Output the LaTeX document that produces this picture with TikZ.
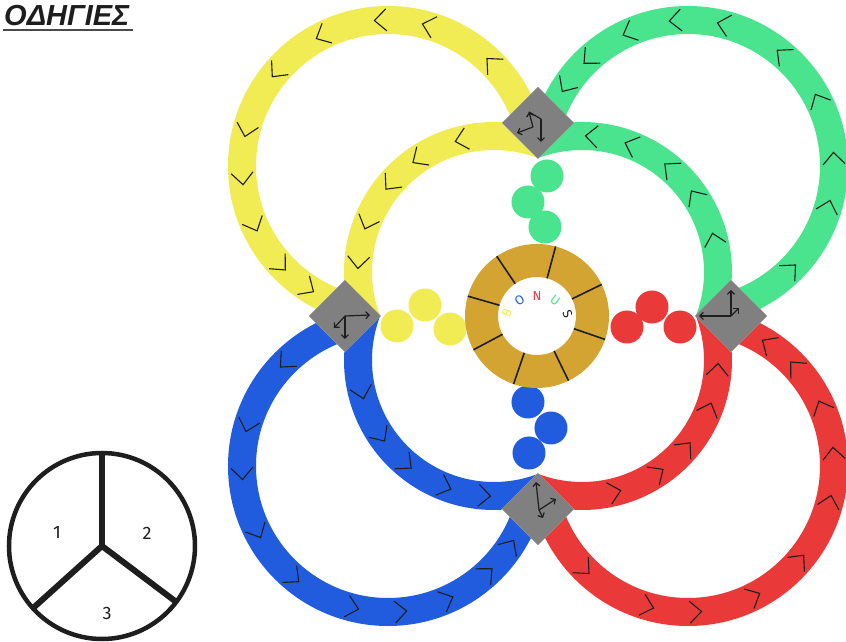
\documentclass[tikz,border=0pt]{standalone}
\usepackage{fontspec}
\setmainfont{Fira Sans}
\newfontfamily\titlefont{Liberation Sans}
\usetikzlibrary{arrows.meta}
\definecolor{yel}{RGB}{241,235,84}
\definecolor{grn}{RGB}{74,228,142}
\definecolor{blu}{RGB}{33,92,222}
\definecolor{redc}{RGB}{234,57,57}
\definecolor{goldc}{RGB}{211,164,50}
\definecolor{dgray}{RGB}{128,128,128}
\definecolor{ink}{RGB}{30,30,30}
\tikzset{
  band/.style={line width=28pt},
  chev/.style={draw=ink, line width=1.1pt},
  symarrow/.style={draw=ink, line width=1.2pt, -{Straight Barb[length=3.5pt,width=7pt]}},
  symline/.style={draw=ink, line width=1.2pt},
  spoke/.style={draw=ink, line width=1.6pt},
  wheel/.style={draw=ink, line width=4.5pt},
  wheelspoke/.style={draw=ink, line width=6pt},
  num/.style={font=\fontsize{18}{18}\selectfont, text=ink},
  letter/.style={font=\fontsize{13}{13}\selectfont, inner sep=0pt},
  diam/.style={fill=dgray},
}
\newcommand{\drawquad}[2]{%
  \begin{scope}[rotate=#2]
    \begin{scope}
      \clip (-700,-471) -- (471,700) -- (-700,700) -- cycle;
      \draw[#1, band] (-150,150) circle (146);
    \end{scope}
    \begin{scope}
      \clip (34.5,122.5) -- (-300,457) -- (-457,300) -- (-122.5,-34.5) -- cycle;
      \draw[#1, band] (-44,44) circle (136);
    \end{scope}
    \foreach \a in {45,74,93,117,140,166,185,204,223,237}{%
      \begin{scope}[shift={(-150,150)}, rotate=\a]
        \draw[chev] (157,-6) -- (146,6) -- (135,-6);
      \end{scope}}
    \foreach \a in {104,124,140,159,176}{%
      \begin{scope}[shift={(-44,44)}, rotate=\a]
        \draw[chev] (147,-6) -- (136,6) -- (125,-6);
      \end{scope}}
  \end{scope}}
\begin{document}
\begin{tikzpicture}[x=1pt,y=1pt]
\useasboundingbox (-538,-326) rectangle (308,316);
\fill[white] (-538,-326) rectangle (308,316);

% loops
\drawquad{yel}{0}
\drawquad{grn}{-90}
\drawquad{redc}{180}
\drawquad{blu}{90}

% diamonds
\coordinate (N) at (0,193);
\coordinate (W) at (-193,0);
\coordinate (E) at (193,0);
\coordinate (S) at (0,-193);
\foreach \p in {N,W,E,S}
  \fill[diam, shift={(\p)}] (0,36) -- (36,0) -- (0,-36) -- (-36,0) -- cycle;

% arrow symbols
\begin{scope}[shift={(N)}]
  \draw[symarrow] (-5,-4) -- (-9,11);
  \draw[symarrow] (-5,-4) -- (-21,-10);
  \draw[symarrow] (3,4) -- (3,-19);
  \draw[symline] (-9,11) -- (3,4);
\end{scope}
\begin{scope}[shift={(W)}]
  \draw[symarrow] (0,0) -- (25,1);
  \draw[symarrow] (0,0) -- (0,-23);
  \draw[symarrow] (0,0) -- (-11,-12);
\end{scope}
\begin{scope}[shift={(E)}]
  \draw[symarrow] (0,0) -- (0,26);
  \draw[symarrow] (0,0) -- (-32,0);
  \draw[symarrow] (0,0) -- (8,8);
\end{scope}
\begin{scope}[shift={(S)}]
  \draw[symarrow] (1,-1) -- (-2,27);
  \draw[symarrow] (1,-1) -- (18,10);
  \draw[symarrow] (1,-1) -- (5,-9);
\end{scope}

% dots
\foreach \q in {(-141,-10),(-113,11),(-88,-13)} \fill[yel] \q circle (16.5);
\foreach \q in {(9,140),(-10,114),(7,89)} \fill[grn] \q circle (16.5);
\foreach \q in {(89,-11),(114,9),(142,-11)} \fill[redc] \q circle (16.5);
\foreach \q in {(-10,-86),(13,-112),(-9,-137)} \fill[blu] \q circle (16.5);

% central ring
\coordinate (R) at (-1,0);
\fill[goldc, even odd rule] (R) circle (72) (R) circle (39);
\begin{scope}[shift={(R)}]
  \foreach \a in {124,75,26,-19,-64,-109,-152,164}
    \draw[spoke] (\a:39) -- (\a:72);
\end{scope}
\begin{scope}[shift={(-1,-10)}]
  \node[letter, text=yel, rotate=66] (lb) at (156:33) {B};
  \node[letter, text=blu, rotate=34] (lo) at (124:31) {O};
  \node[letter, text=redc, rotate=0] (ln) at (90:30) {N};
  \node[letter, text=grn, rotate=-36] (lu) at (54:31) {U};
  \node[letter, text=ink, rotate=-68] (ls) at (22:33) {S};
\end{scope}

% title
\node[anchor=base west, inner sep=0pt, font=\titlefont\bfseries\itshape\fontsize{29}{29}\selectfont, text=ink] (title) at (-534,290) {ΟΔΗΓΙΕΣ};
\draw[line width=1.8pt, ink!80] (-535,286) -- (-405,286);

% wheel
\coordinate (P) at (-436,-230);
\draw[wheel] (P) circle (93);
\draw[wheelspoke] (P) -- ++(90:92);
\draw[wheelspoke] (P) -- ++(222:92);
\draw[wheelspoke] (P) -- ++(-37:92);
\node[num] (n1) at (-481,-216) {1};
\node[num] (n2) at (-391,-217) {2};
\node[num] (n3) at (-431,-297) {3};
\end{tikzpicture}
\end{document}
